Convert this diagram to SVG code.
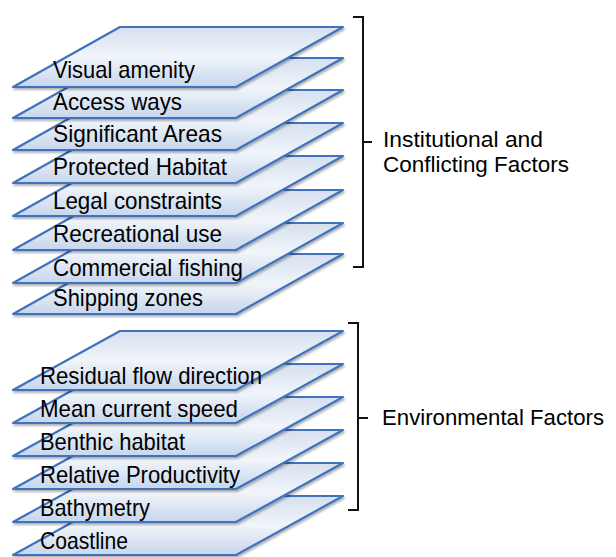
<svg xmlns="http://www.w3.org/2000/svg" width="616" height="557" viewBox="0 0 616 557">
<defs>
<linearGradient id="lg" x1="0" y1="0" x2="0" y2="1">
<stop offset="0" stop-color="#d5e0ef"/>
<stop offset="0.5" stop-color="#f1f5fa"/>
<stop offset="1" stop-color="#c6d6ec"/>
</linearGradient>
<filter id="sh" x="-5%" y="-10%" width="115%" height="130%">
<feDropShadow dx="1" dy="2" stdDeviation="1.2" flood-color="#000" flood-opacity="0.3"/>
</filter>
</defs>
<style>
.layer{fill:url(#lg);stroke:#3f72bd;stroke-width:2.2;stroke-linejoin:round;filter:url(#sh)}
.lbl{font-family:"Liberation Sans",Arial,sans-serif;font-size:24px;fill:#000}
.side{font-family:"Liberation Sans",Arial,sans-serif;font-size:22px;fill:#000}
.br{fill:none;stroke:#111;stroke-width:2}
</style>
<rect width="616" height="557" fill="#fff"/>

<!-- Institutional and conflicting factors (drawn bottom-up) -->
<g id="shipping-zones"><polygon class="layer" points="120,254 343,254 236,314 13,314"/><text class="lbl" x="53" y="306" textLength="150" lengthAdjust="spacingAndGlyphs">Shipping zones</text></g>
<g id="commercial-fishing"><polygon class="layer" points="120,223 343,223 236,283 13,283"/><text class="lbl" x="53" y="276" textLength="190" lengthAdjust="spacingAndGlyphs">Commercial fishing</text></g>
<g id="recreational-use"><polygon class="layer" points="120,190 343,190 236,250 13,250"/><text class="lbl" x="53" y="242" textLength="169" lengthAdjust="spacingAndGlyphs">Recreational use</text></g>
<g id="legal-constraints"><polygon class="layer" points="120,156 343,156 236,216 13,216"/><text class="lbl" x="53" y="209" textLength="169" lengthAdjust="spacingAndGlyphs">Legal constraints</text></g>
<g id="protected-habitat"><polygon class="layer" points="120,123 343,123 236,183 13,183"/><text class="lbl" x="53" y="175" textLength="174" lengthAdjust="spacingAndGlyphs">Protected Habitat</text></g>
<g id="significant-areas"><polygon class="layer" points="120,90 343,90 236,150 13,150"/><text class="lbl" x="53" y="142" textLength="169" lengthAdjust="spacingAndGlyphs">Significant Areas</text></g>
<g id="access-ways"><polygon class="layer" points="120,58 343,58 236,118 13,118"/><text class="lbl" x="53" y="110" textLength="129" lengthAdjust="spacingAndGlyphs">Access ways</text></g>
<g id="visual-amenity"><polygon class="layer" points="120,27 343,27 236,87 13,87"/><text class="lbl" x="53" y="78" textLength="142" lengthAdjust="spacingAndGlyphs">Visual amenity</text></g>

<!-- Environmental factors (drawn bottom-up) -->
<g id="coastline"><polygon class="layer" points="120,496 343,496 236,555 13,555"/><text class="lbl" x="40" y="549" textLength="88" lengthAdjust="spacingAndGlyphs">Coastline</text></g>
<g id="bathymetry"><polygon class="layer" points="120,463 343,463 236,522 13,522"/><text class="lbl" x="40" y="516" textLength="110" lengthAdjust="spacingAndGlyphs">Bathymetry</text></g>
<g id="relative-productivity"><polygon class="layer" points="120,430 343,430 236,489 13,489"/><text class="lbl" x="40" y="483" textLength="200" lengthAdjust="spacingAndGlyphs">Relative Productivity</text></g>
<g id="benthic-habitat"><polygon class="layer" points="120,397 343,397 236,456 13,456"/><text class="lbl" x="40" y="450" textLength="145" lengthAdjust="spacingAndGlyphs">Benthic habitat</text></g>
<g id="mean-current-speed"><polygon class="layer" points="120,364 343,364 236,423 13,423"/><text class="lbl" x="40" y="417" textLength="198" lengthAdjust="spacingAndGlyphs">Mean current speed</text></g>
<g id="residual-flow-direction"><polygon class="layer" points="120,331 343,331 236,390 13,390"/><text class="lbl" x="40" y="384" textLength="222" lengthAdjust="spacingAndGlyphs">Residual flow direction</text></g>

<!-- Brackets -->
<g id="connectors">
<path class="br" d="M353,17 H363 V267 H353 M363,142 H372"/>
<path class="br" d="M348,323 H358 V510 H348 M358,418 H368"/>
</g>
<g id="institutional-label">
<text class="side" x="383" y="147" textLength="160" lengthAdjust="spacingAndGlyphs">Institutional and</text>
<text class="side" x="383" y="172" textLength="186" lengthAdjust="spacingAndGlyphs">Conflicting Factors</text>
</g>
<g id="environmental-label">
<text class="side" x="382" y="425" textLength="222" lengthAdjust="spacingAndGlyphs">Environmental Factors</text>
</g>
</svg>
